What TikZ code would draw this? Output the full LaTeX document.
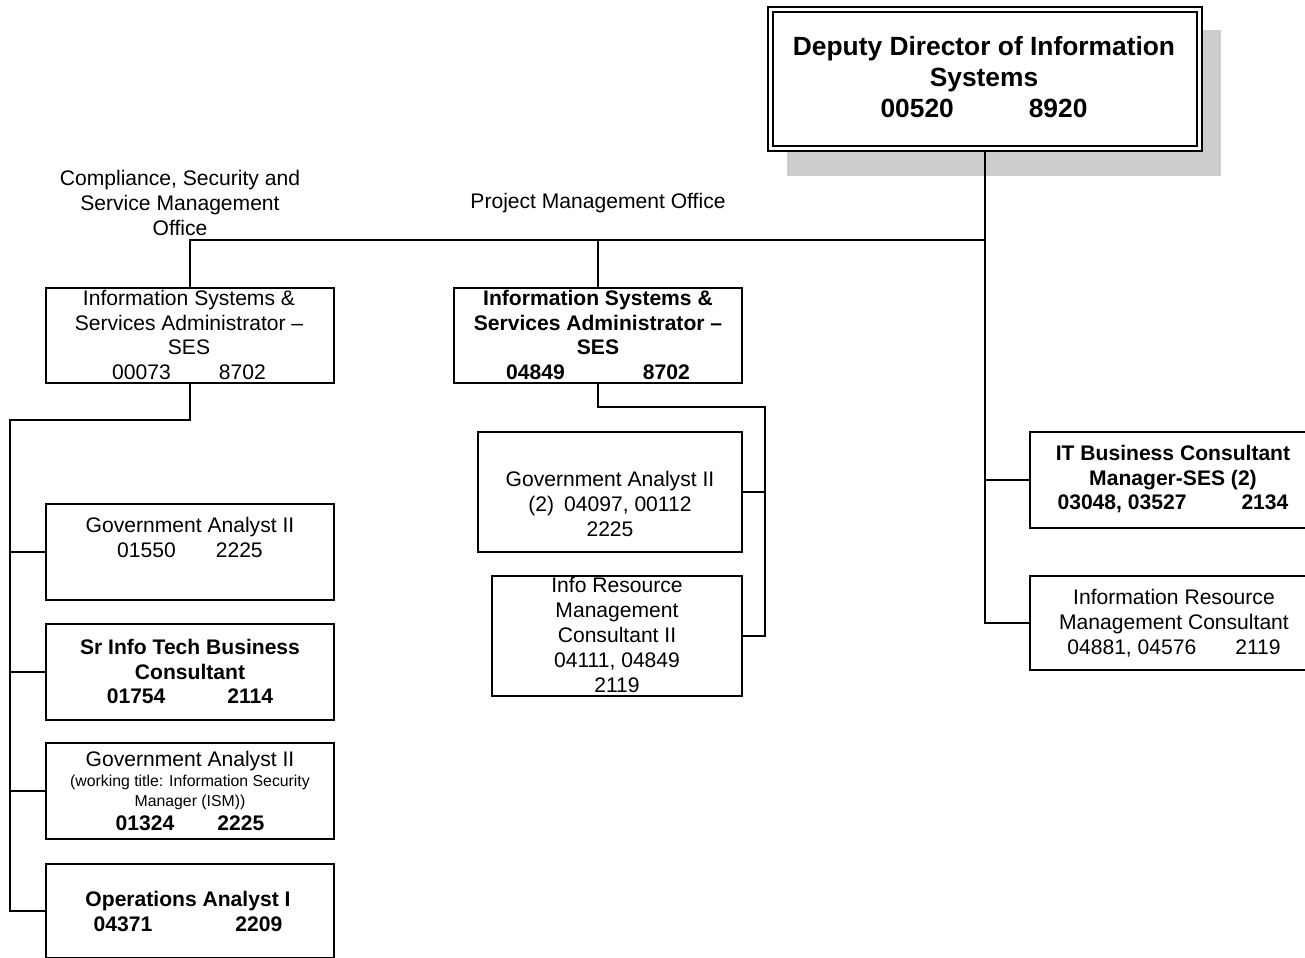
\documentclass[tikz,border=0pt]{standalone}
\usepackage{fontspec}
\setmainfont{Liberation Sans}
\usetikzlibrary{fit}
\begin{document}
\begin{tikzpicture}[x=0.02cm,y=-0.02cm,
  box/.style={draw, line width=0.04cm, inner sep=0pt, fill=white},
  txt/.style={align=center, inner sep=0pt, font=\fontsize{12}{14.17}\selectfont},
  btxt/.style={align=center, inner sep=0pt, font=\fontsize{12}{14.17}\selectfont\bfseries},
  link/.style={line width=0.04cm}]
\useasboundingbox (0,0) rectangle (1305,957);

% director box with shadow and double frame
\fill[black!20] (787,30) rectangle (1221,176);
\node[box, line width=0.045cm, fit={(768,7) (1202,151)}] (top) {};
\draw[line width=0.03cm] (773,12) rectangle (1197,146);
\node[align=center, inner sep=0pt, font=\fontsize{15}{17.6}\selectfont\bfseries] (toptxt) at (984,77.5)
  {Deputy Director of Information\\Systems\\00520\hspace{1.5cm}8920};

% office labels
\node[txt] (cssmo) at (180,203) {Compliance, Security and\\Service Management\\Office};
\node[txt] (pmo) at (598,203) {Project Management Office};

% second level
\node[box, fit={(46,288) (334,383)}] (l0) {};
\node[txt] (l0t) at (189,335) {Information Systems \&\\Services Administrator \textendash\\SES\\00073\hspace{0.96cm}8702};
\node[box, fit={(454,288) (742,383)}] (m0) {};
\node[btxt] (m0t) at (598,335) {Information Systems \&\\Services Administrator \textendash\\SES\\04849\hspace{1.56cm}8702};

% left column
\node[box, fit={(46,504) (334,600)}] (l1) {};
\node[txt] (l1t) at (190,537.5) {Government Analyst II\\01550\hspace{0.8cm}2225};
\node[box, fit={(46,624) (334,720)}] (l2) {};
\node[btxt] (l2t) at (190,671.5) {Sr Info Tech Business\\Consultant\\01754\hspace{1.24cm}2114};
\node[box, fit={(46,743) (334,839)}] (l3) {};
\node[txt] (l3t) at (190,791) {Government Analyst II\\[-2.7pt]
  {\fontsize{9}{11.3}\selectfont (working title: Information Security}\\[-2.8pt]
  {\fontsize{9}{11.3}\selectfont Manager (ISM))}\\[-0.7pt]
  \textbf{01324\hspace{0.86cm}2225}};
\node[box, fit={(46,864) (334,958)}] (l4) {};
\node[btxt] (l4t) at (188,911.5) {Operations Analyst I\\04371\hspace{1.66cm}2209};

% middle column
\node[box, fit={(478,432) (742,552)}] (m1) {};
\node[txt] (m1t) at (610,504) {Government Analyst II\\(2)\hspace{0.2cm}04097, 00112\\2225};
\node[box, fit={(492,576) (742,696)}] (m2) {};
\node[txt] (m2t) at (617,635) {Info Resource\\Management\\Consultant II\\04111, 04849\\2119};

% right column
\node[box, fit={(1030,432) (1316,528)}] (r1) {};
\node[btxt] (r1t) at (1173,479) {IT Business Consultant\\Manager-SES (2)\\03048, 03527\hspace{1.1cm}2134};
\node[box, fit={(1030,576) (1316,670)}] (r2) {};
\node[txt] (r2t) at (1174,623) {Information Resource\\Management Consultant\\04881, 04576\hspace{0.78cm}2119};

% connectors
\coordinate (hub) at (985,240);
\coordinate (lsp) at (10,420);
\coordinate (msp) at (765,407);
\draw[link] (top.south) |- (r2.west);
\draw[link] (top.south |- r1.west) -- (r1.west);
\draw[link] (l0.north) |- (hub);
\draw[link] (m0.north) -- (m0.north |- hub);
\draw[link] (l0.south) |- (lsp) |- (l4.west);
\draw[link] (lsp |- l1.west) -- (l1.west);
\draw[link] (lsp |- l2.west) -- (l2.west);
\draw[link] (lsp |- l3.west) -- (l3.west);
\draw[link] (m0.south) |- (msp) |- (m2.east);
\draw[link] (msp |- m1.east) -- (m1.east);
\end{tikzpicture}
\end{document}
